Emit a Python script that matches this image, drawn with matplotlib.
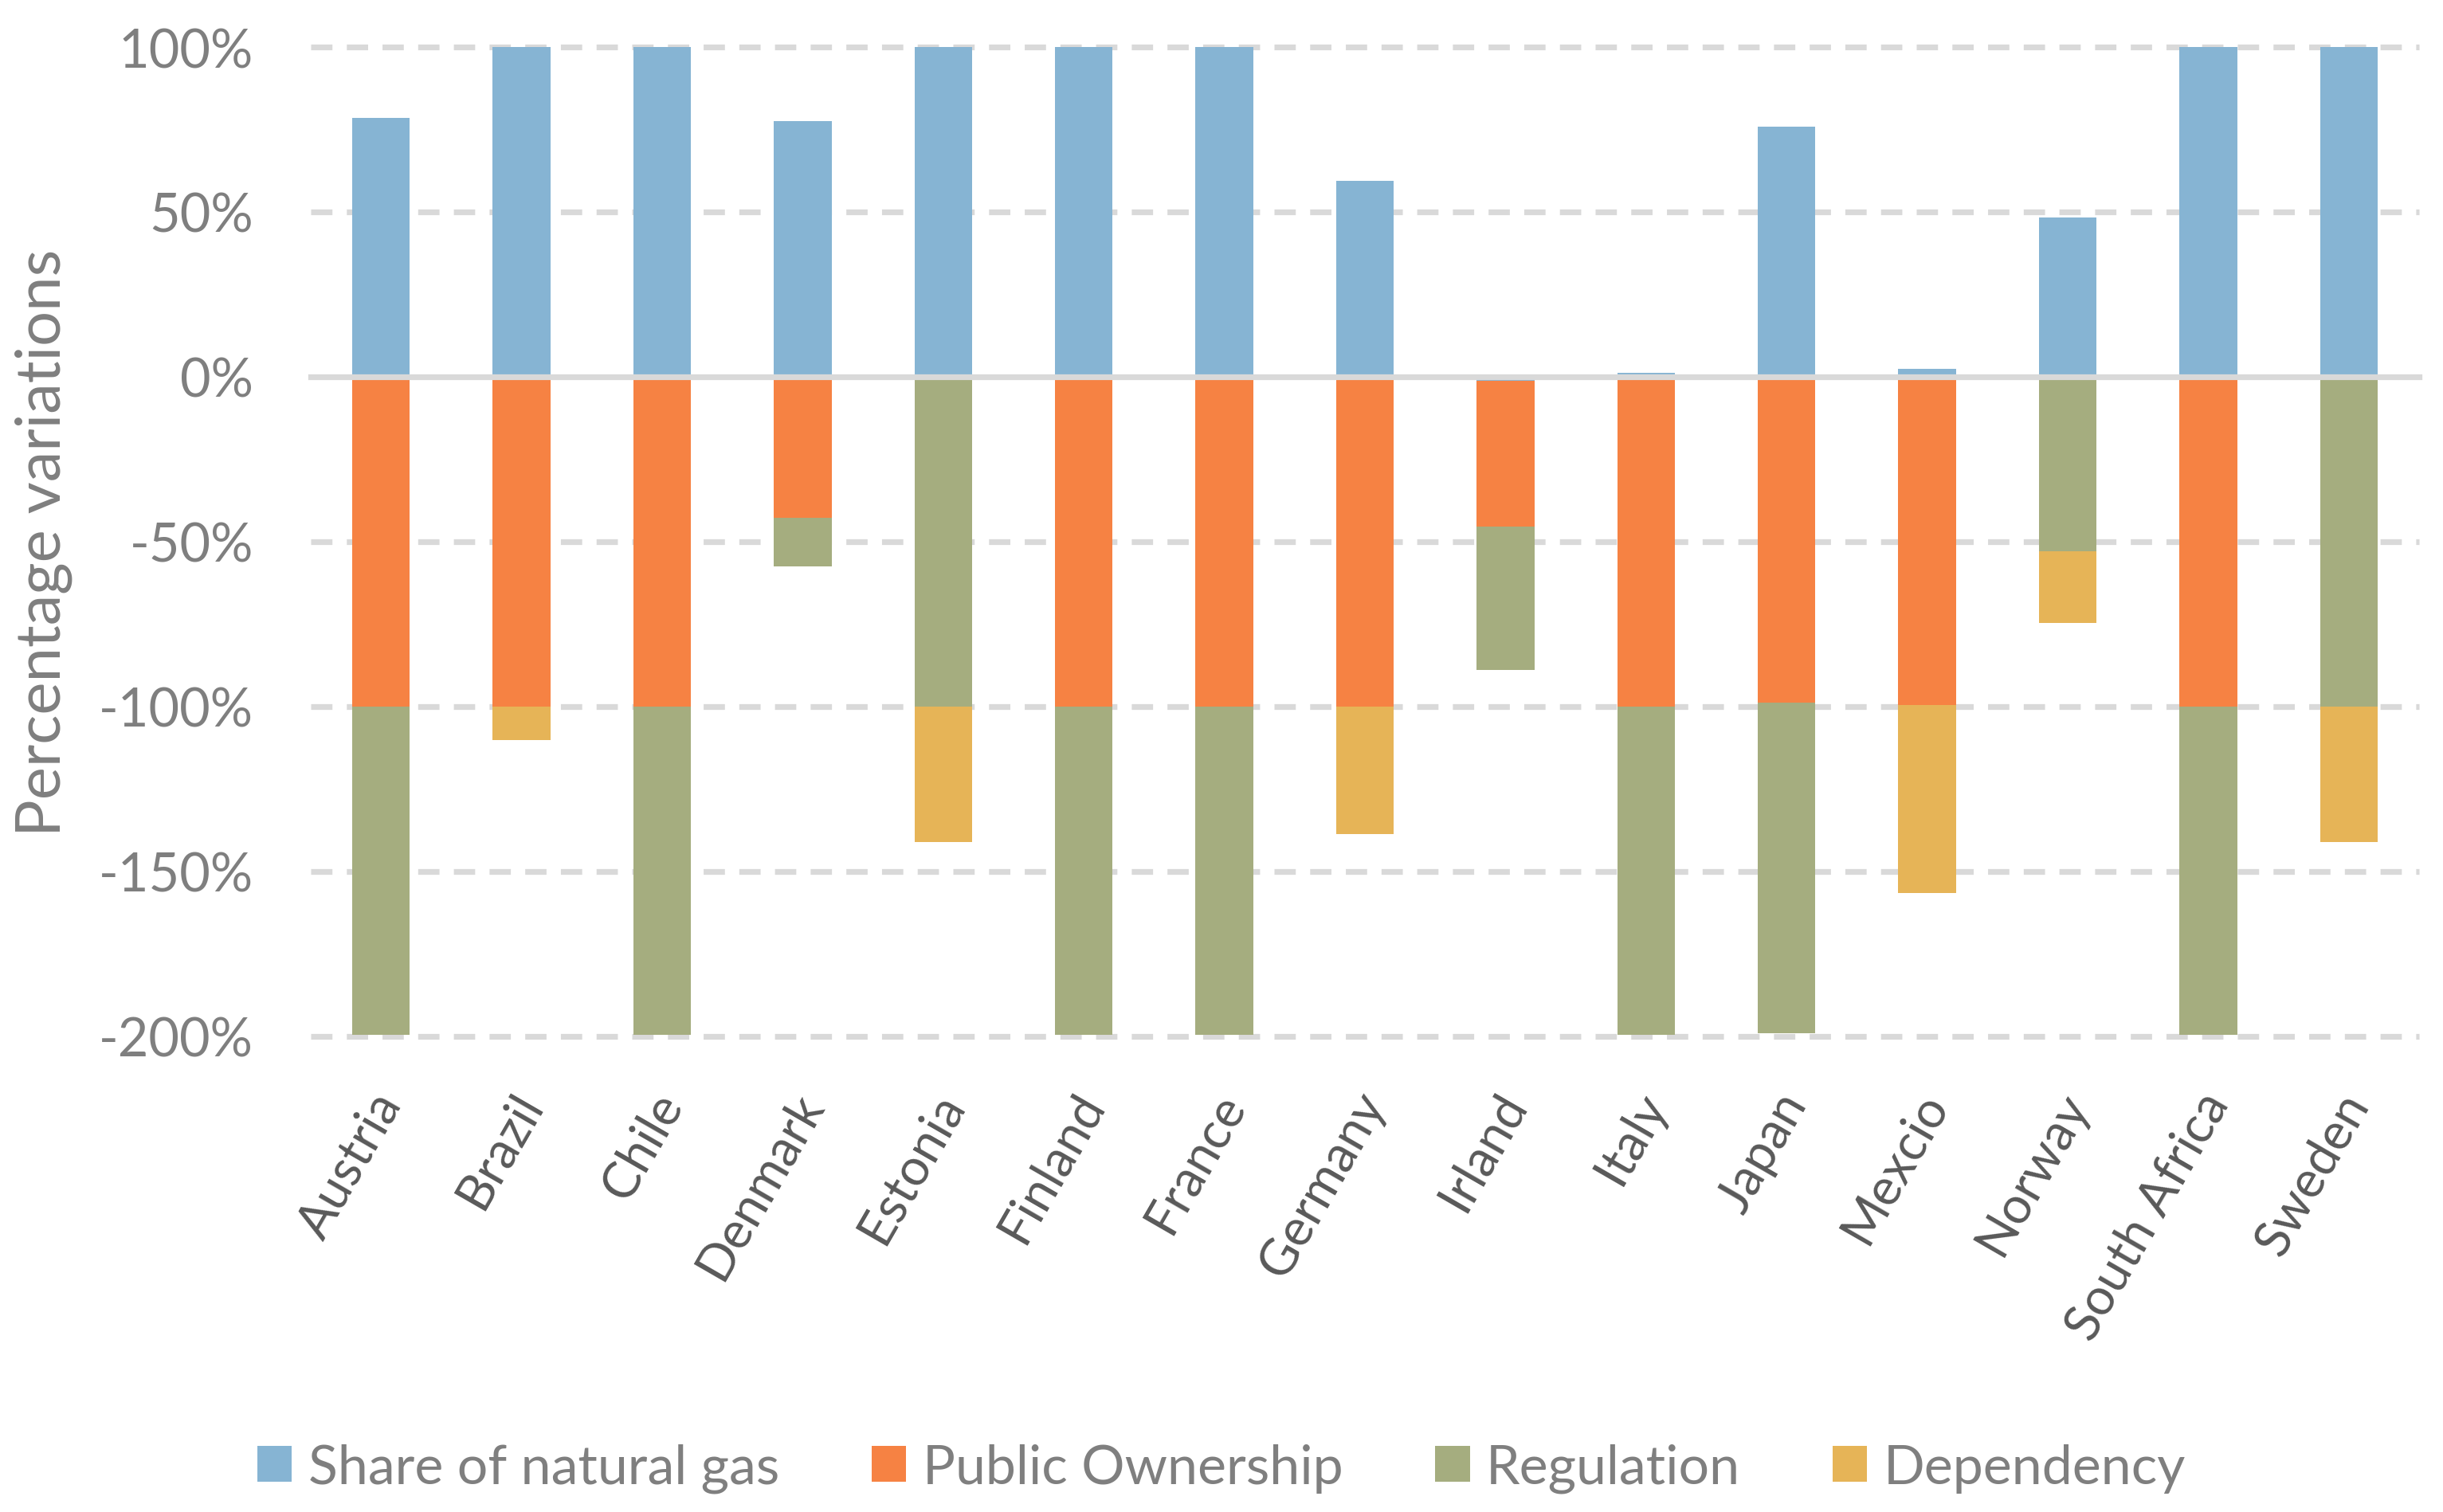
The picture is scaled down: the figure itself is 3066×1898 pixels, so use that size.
#!/usr/bin/env python3

import numpy as np
import matplotlib.pyplot as plt
import matplotlib.transforms as mtransforms
from matplotlib.ticker import FuncFormatter

plt.rcParams['font.family'] = ['Lato', 'DejaVu Sans']

countries = ['Austria', 'Brazil', 'Chile', 'Denmark', 'Estonia', 'Finland', 'France',
             'Germany', 'Irland', 'Italy', 'Japan', 'Mexcio', 'Norway', 'South Africa', 'Sweden']

# values in percent
share_gas = [78.5, 100, 100, 77.6, 100, 100, 100, 59.5, -1.3, 1.3, 75.9, 2.5, 48.3, 100, 100]
public_own = [-100, -100, -100, -42.8, 0, -100, -100, -100, -44.1, -100, -98.8, -99.5, 0, -100, 0]
regulation = [-99.5, 0, -99.5, -14.7, -100, -99.5, -99.5, 0, -43.5, -99.5, -100.2, 0, -52.9, -99.5, -100]
dependency = [0, -10.1, 0, 0, -41.1, 0, 0, -38.6, 0, 0, 0, -57.1, -21.7, 0, -41.1]

series = [
    ('Share of natural gas', share_gas, '#86B4D3'),
    ('Public Ownership', public_own, '#F68243'),
    ('Regulation', regulation, '#A5AD7F'),
    ('Dependency', dependency, '#E6B457'),
]

fig = plt.figure(figsize=(15.33, 9.495), dpi=200)
ax = fig.add_axes([0.1272, 0.3144, 0.863, 0.654])

x = np.arange(len(countries))
pos_base = np.zeros(len(countries))
neg_base = np.zeros(len(countries))

# stack positives up and negatives down, like Excel does
for name, vals, color in series:
    v = np.array(vals, dtype=float)
    bottom = np.where(v >= 0, pos_base, neg_base)
    ax.bar(x, v, 0.41, bottom=bottom, color=color, label=name, zorder=2)
    pos_base += np.where(v >= 0, v, 0)
    neg_base += np.where(v < 0, v, 0)

ax.set_xlim(-0.5, len(countries) - 0.5)
ax.set_ylim(-200, 100)
yticks = [100, 50, 0, -50, -100, -150, -200]
ax.set_yticks(yticks)
ax.yaxis.set_major_formatter(FuncFormatter(lambda v, p: f'{v:.0f}%'))

for yv in yticks:
    if yv == 0:
        ax.axhline(0, color='#D9D9D9', lw=2.6, zorder=3, clip_on=False)
    else:
        ax.axhline(yv, color='#D9D9D9', lw=2.6, ls=(0, (3.7, 2.5)), zorder=1, clip_on=False)

for s in ax.spines.values():
    s.set_visible(False)

ax.tick_params(axis='y', length=0, pad=26, labelsize=24, labelcolor='#7F7F7F')
ax.tick_params(axis='x', length=0, pad=27, labelsize=23, labelcolor='#595959')
ax.set_xticks(x)
ax.set_xticklabels(countries, rotation=60, ha='right', va='center', rotation_mode='anchor')
shift = mtransforms.ScaledTranslation(4 / 72, 0, fig.dpi_scale_trans)
for lab in ax.get_xticklabels():
    lab.set_transform(lab.get_transform() + shift)

fig.text(0.018, 0.641, 'Percentage variations', rotation=90, ha='center', va='center',
         fontsize=28, color='#7F7F7F')

fig.legend(loc='center', bbox_to_anchor=(0.5, 0.029), ncol=4, frameon=False,
           fontsize=24.5, labelcolor='#7F7F7F', handlelength=0.64, handleheight=0.64,
           handletextpad=0.3, columnspacing=1.7)

fig.savefig('out.png', dpi=200)
